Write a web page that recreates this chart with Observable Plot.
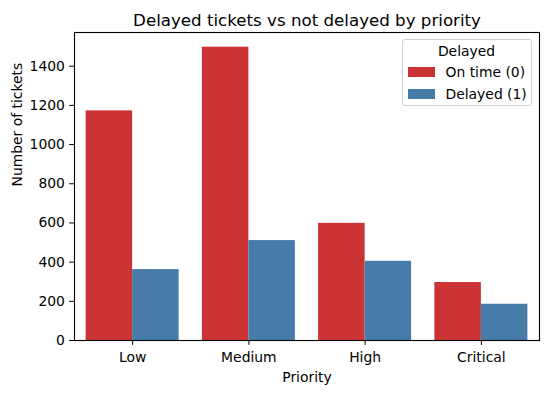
<!DOCTYPE html>
<html>
<head>
<meta charset="utf-8">
<script src="https://cdn.jsdelivr.net/npm/d3@7"></script>
<script src="https://cdn.jsdelivr.net/npm/@observablehq/plot@0.6"></script>
<style>
  html, body { margin: 0; padding: 0; background: #fff; }
  #wrap { position: relative; width: 549px; height: 393px; font-family: "DejaVu Sans", sans-serif; }
  #legend {
    position: absolute; left: 401.5px; top: 39px; width: 130px; height: 67px;
    box-sizing: border-box; border: 1px solid #d0d0d0; border-radius: 3px;
    background: rgba(255,255,255,0.8); font-size: 13.9px; color: #000;
  }
  #legend .ttl { position: absolute; left: 0; right: 0; top: 3px; text-align: center; line-height: 16px; }
  #legend .row { position: absolute; left: 5px; height: 16px; line-height: 16px; white-space: nowrap; }
  #legend .sw { display: inline-block; width: 27px; height: 10px; vertical-align: middle; margin-right: 11px; position: relative; top: -1px; }
</style>
</head>
<body>
<div id="wrap"></div>
<script>
const priorities = ["Low", "Medium", "High", "Critical"];
const statuses = ["On time (0)", "Delayed (1)"];
const onTime = [1172, 1497, 598, 296];
const delayed = [362, 510, 404, 185];
const colors = ["#cb3335", "#477ca8"];
const yTicks = [0, 200, 400, 600, 800, 1000, 1200, 1400];
const titleText = "Delayed tickets vs not delayed by priority";
const xLabel = "Priority";
const yLabel = "Number of tickets";
const legendTitle = "Delayed";

const rows = [];
priorities.forEach((p, i) => {
  [onTime[i], delayed[i]].forEach((v, s) => {
    rows.push({priority: p, idx: i, s, status: statuses[s], count: v});
  });
});

const plot = Plot.plot({
  width: 549,
  height: 393,
  marginLeft: 74,
  marginRight: 10,
  marginTop: 32,
  marginBottom: 53,
  style: {fontFamily: "DejaVu Sans", fontSize: "13.9px", color: "#000", background: "#fff"},
  x: {type: "linear", domain: [-0.5, priorities.length - 0.5]},
  y: {domain: [0, 1572]},
  color: {domain: statuses, range: colors},
  marks: [
    Plot.rectY(rows, {
      x1: d => d.idx - 0.4 + 0.4 * d.s,
      x2: d => d.idx + 0.4 * d.s,
      y1: 0,
      y2: "count",
      fill: "status"
    }),
    Plot.axisY({ticks: yTicks, tickFormat: d => String(d), tickSize: 4.86, tickPadding: 4.7, label: null, fontSize: 13.9}),
    Plot.axisX({ticks: d3.range(priorities.length), tickFormat: i => priorities[i], tickSize: 4.86, tickPadding: 6.5, label: null, fontSize: 13.9}),
    Plot.frame({stroke: "#000", strokeWidth: 1.1}),
    Plot.text([titleText], {frameAnchor: "top", text: d => d, lineAnchor: "top", dy: -18.8, fontSize: 16.67}),
    Plot.text([xLabel], {frameAnchor: "bottom", text: d => d, lineAnchor: "top", dy: 31.6, fontSize: 13.9}),
    Plot.text([yLabel], {frameAnchor: "left", text: d => d, lineAnchor: "top", rotate: -90, dx: -62.4, fontSize: 13.9})
  ]
});

const wrap = document.getElementById("wrap");
wrap.appendChild(plot);

const lg = document.createElement("div");
lg.id = "legend";
const t = document.createElement("div");
t.className = "ttl";
t.textContent = legendTitle;
lg.appendChild(t);
statuses.forEach((s, i) => {
  const r = document.createElement("div");
  r.className = "row";
  r.style.top = (24 + i * 21.5) + "px";
  const sw = document.createElement("span");
  sw.className = "sw";
  sw.style.background = colors[i];
  r.appendChild(sw);
  r.appendChild(document.createTextNode(s));
  lg.appendChild(r);
});
wrap.appendChild(lg);
</script>
</body>
</html>
